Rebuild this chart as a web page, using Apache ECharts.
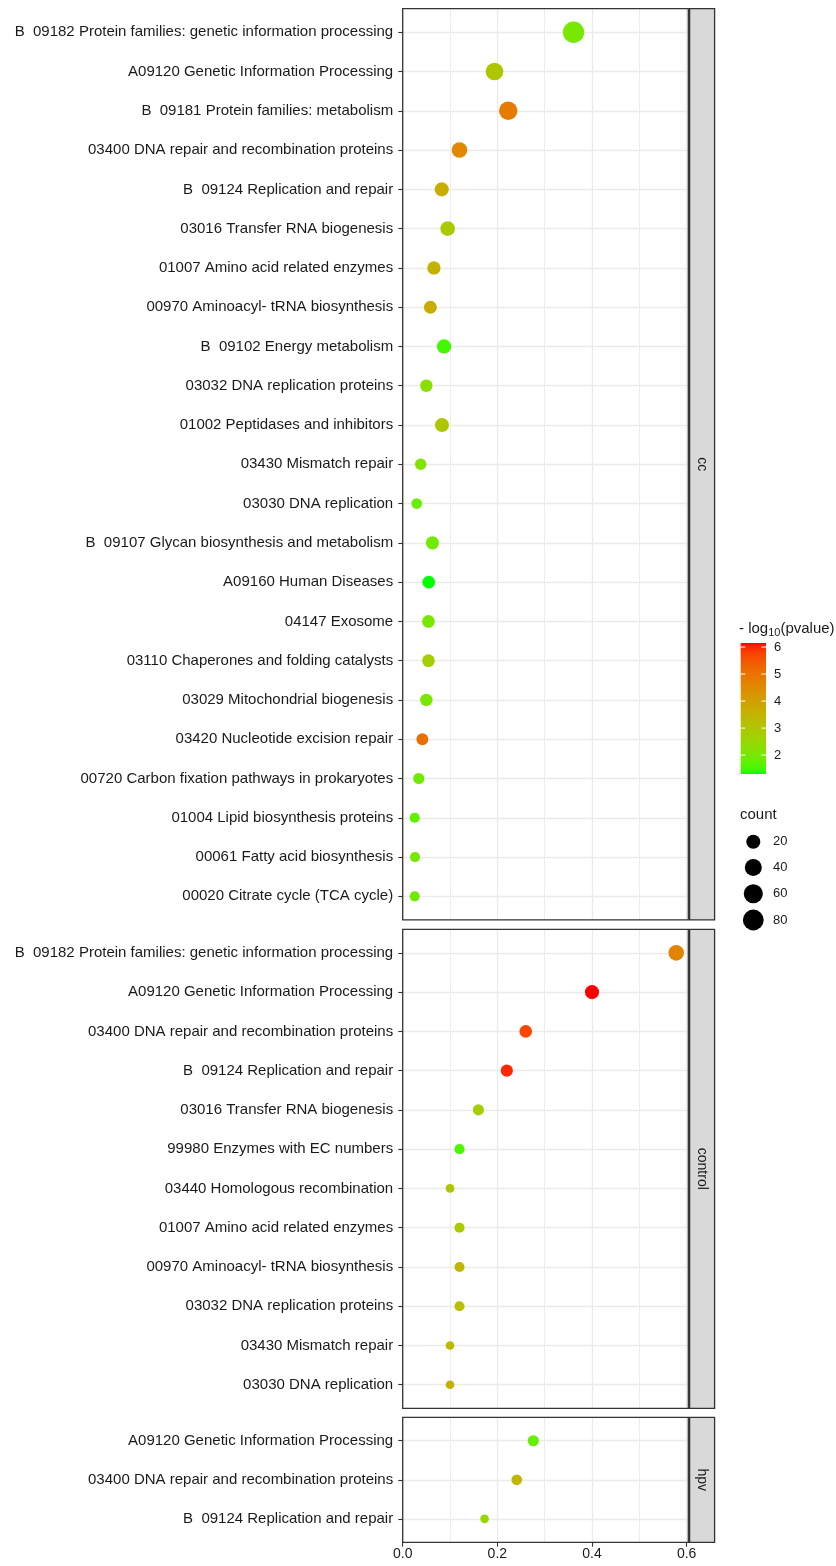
<!DOCTYPE html>
<html><head><meta charset="utf-8">
<script src="https://cdn.jsdelivr.net/npm/echarts@6/dist/echarts.min.js"></script>
<style>html,body{margin:0;padding:0;background:#fff}#c{width:836px;height:1566px}</style>
</head><body><div id="c"></div>
<script>
// ---------------- DATA ----------------
const ccCategories = [
  "B  09182 Protein families: genetic information processing",
  "A09120 Genetic Information Processing",
  "B  09181 Protein families: metabolism",
  "03400 DNA repair and recombination proteins",
  "B  09124 Replication and repair",
  "03016 Transfer RNA biogenesis",
  "01007 Amino acid related enzymes",
  "00970 Aminoacyl- tRNA biosynthesis",
  "B  09102 Energy metabolism",
  "03032 DNA replication proteins",
  "01002 Peptidases and inhibitors",
  "03430 Mismatch repair",
  "03030 DNA replication",
  "B  09107 Glycan biosynthesis and metabolism",
  "A09160 Human Diseases",
  "04147 Exosome",
  "03110 Chaperones and folding catalysts",
  "03029 Mitochondrial biogenesis",
  "03420 Nucleotide excision repair",
  "00720 Carbon fixation pathways in prokaryotes",
  "01004 Lipid biosynthesis proteins",
  "00061 Fatty acid biosynthesis",
  "00020 Citrate cycle (TCA cycle)"
];
const ccGeneRatio = [0.361, 0.194, 0.223, 0.120, 0.0825, 0.095, 0.066, 0.0585, 0.0874, 0.050, 0.083, 0.038, 0.0296, 0.0628, 0.055, 0.0544, 0.0544, 0.050, 0.0416, 0.034, 0.0254, 0.026, 0.0254];
const ccCount = [86, 46, 53, 29, 20, 23, 16, 14, 21, 12, 20, 9, 7, 15, 13, 13, 13, 12, 10, 8, 6, 6, 6];
const ccLogP = [2.0, 3.0, 4.85, 4.6, 3.7, 2.9, 3.55, 3.7, 1.5, 2.25, 3.0, 2.15, 1.8, 1.9, 1.3, 2.0, 2.75, 2.0, 5.1, 1.9, 1.7, 1.95, 1.9];

const controlCategories = [
  "B  09182 Protein families: genetic information processing",
  "A09120 Genetic Information Processing",
  "03400 DNA repair and recombination proteins",
  "B  09124 Replication and repair",
  "03016 Transfer RNA biogenesis",
  "99980 Enzymes with EC numbers",
  "03440 Homologous recombination",
  "01007 Amino acid related enzymes",
  "00970 Aminoacyl- tRNA biosynthesis",
  "03032 DNA replication proteins",
  "03430 Mismatch repair",
  "03030 DNA replication"
];
const controlGeneRatio = [0.578, 0.40, 0.26, 0.22, 0.16, 0.12, 0.10, 0.12, 0.12, 0.12, 0.10, 0.10];
const controlCount = [29, 20, 13, 11, 8, 6, 5, 6, 6, 6, 5, 5];
const controlLogP = [4.65, 6.15, 5.7, 6.0, 2.75, 1.55, 3.0, 2.85, 3.45, 3.2, 3.3, 3.55];

const hpvCategories = [
  "A09120 Genetic Information Processing",
  "03400 DNA repair and recombination proteins",
  "B  09124 Replication and repair"
];
const hpvGeneRatio = [0.276, 0.241, 0.173];
const hpvCount = [8, 7, 5];
const hpvLogP = [1.8, 3.45, 2.5];

const panelNames = ["cc", "control", "hpv"];
const xTickValues = [0, 0.2, 0.4, 0.6];
const colorBreaks = [2, 3, 4, 5, 6];
const countBreaks = [20, 40, 60, 80];

// ---------------- STYLE / LAYOUT ----------------
const FONT = "'Liberation Sans', Arial, Helvetica, sans-serif";
const plotLeft = 402.7, plotRight = 688.3;
const panelBoxes = [
  {top: 8.7, bottom: 919.9},
  {top: 929.3, bottom: 1408.3},
  {top: 1417.3, bottom: 1542.3}
];
const stripLeft = 689.6, stripRight = 714.6;
const xMax = 0.6035;

// Lab interpolation green -> red (like ggplot scale_colour_gradient)
function toLin(c){c/=255;return c<=0.04045?c/12.92:Math.pow((c+0.055)/1.055,2.4);}
function toS(v){v=Math.max(0,Math.min(1,v));const s=v<=0.0031308?12.92*v:1.055*Math.pow(v,1/2.4)-0.055;return Math.round(s*255);}
function rgbToLab(rgb){
  const R=toLin(rgb[0]),G=toLin(rgb[1]),B=toLin(rgb[2]);
  const X=(0.4124*R+0.3576*G+0.1805*B)/0.95047, Y=(0.2126*R+0.7152*G+0.0722*B), Z=(0.0193*R+0.1192*G+0.9505*B)/1.08883;
  const f=t=>t>0.008856?Math.cbrt(t):7.787*t+16/116;
  const fx=f(X),fy=f(Y),fz=f(Z);
  return [116*fy-16,500*(fx-fy),200*(fy-fz)];
}
function labToRgb(lab){
  const fy=(lab[0]+16)/116, fx=fy+lab[1]/500, fz=fy-lab[2]/200;
  const inv=t=>t*t*t>0.008856?t*t*t:(t-16/116)/7.787;
  const X=inv(fx)*0.95047,Y=inv(fy),Z=inv(fz)*1.08883;
  const R=3.2406*X-1.5372*Y-0.4986*Z, G=-0.9689*X+1.8758*Y+0.0415*Z, B=0.0557*X-0.2040*Y+1.0570*Z;
  return 'rgb('+toS(R)+','+toS(G)+','+toS(B)+')';
}
const labLow = rgbToLab([0,255,0]), labHigh = rgbToLab([255,0,0]);
const NSTOP = 40;
const colorStops = [];
for (let i=0;i<=NSTOP;i++){const t=i/NSTOP;colorStops.push(labToRgb([0,1,2].map(k=>labLow[k]+(labHigh[k]-labLow[k])*t)));}

const allLogP = ccLogP.concat(controlLogP, hpvLogP);
const allCount = ccCount.concat(controlCount, hpvCount);
const pMin = Math.min.apply(null, allLogP), pMax = Math.max.apply(null, allLogP);
const cMin = Math.min.apply(null, allCount), cMax = Math.max.apply(null, allCount);
function sizeOf(c){ return 8.7 + 12.6*Math.sqrt(Math.max(0,(c-cMin))/(cMax-cMin)); }

const panels = [
  {cats: ccCategories, ratio: ccGeneRatio, count: ccCount, logp: ccLogP},
  {cats: controlCategories, ratio: controlGeneRatio, count: controlCount, logp: controlLogP},
  {cats: hpvCategories, ratio: hpvGeneRatio, count: hpvCount, logp: hpvLogP}
];

const grids = [], xAxes = [], yAxes = [], series = [], graphics = [];
panels.forEach((p, gi) => {
  const box = panelBoxes[gi];
  const n = p.cats.length;
  const idx = p.cats.map((_, i) => i);
  const last = gi === panels.length - 1;
  grids.push({left: plotLeft, width: plotRight - plotLeft, top: box.top, height: box.bottom - box.top,
    show: false, containLabel: false, outerBoundsMode: 'none'});
  xAxes.push({
    type: 'value', gridIndex: gi, position: 'bottom', min: 0, max: xMax, interval: 0.2,
    axisLine: {show: false, onZero: false},
    axisTick: {show: last, length: 4.4, customValues: xTickValues, lineStyle: {color: '#333333', width: 1.1}},
    axisLabel: {show: last, customValues: xTickValues, margin: 5, fontSize: 14, color: '#1a1a1a', fontFamily: FONT,
      formatter: v => (Math.abs(v*5 - Math.round(v*5)) < 1e-6) ? v.toFixed(1) : ''},
    splitLine: {show: true, lineStyle: {color: '#EBEBEB', width: 1.3}},
    minorTick: {show: false, splitNumber: 2},
    minorSplitLine: {show: true, lineStyle: {color: '#EBEBEB', width: 0.9}}
  });
  yAxes.push({
    type: 'value', gridIndex: gi, position: 'left', inverse: true, min: -0.6, max: n - 0.4, minInterval: 1, maxInterval: 1,
    axisLine: {show: false, onZero: false},
    axisTick: {show: true, length: 4.4, customValues: idx, lineStyle: {color: '#333333', width: 1.1}},
    axisLabel: {show: true, customValues: idx, margin: 9.5, fontSize: 15, color: '#1a1a1a', fontFamily: FONT,
      formatter: v => (Math.abs(v - Math.round(v)) < 1e-6 && p.cats[Math.round(v)] !== undefined) ? p.cats[Math.round(v)] : ''},
    splitLine: {show: true, lineStyle: {color: '#EBEBEB', width: 1.3}}
  });
  series.push({
    type: 'scatter', xAxisIndex: gi, yAxisIndex: gi,
    data: p.ratio.map((x, i) => [x, i, p.count[i], p.logp[i]]),
    symbol: 'circle',
    symbolSize: v => sizeOf(v[2]),
    itemStyle: {opacity: 1, borderWidth: 0},
    emphasis: {disabled: true},
    z: 3
  });
  // panel border
  graphics.push({type: 'rect', shape: {x: plotLeft, y: box.top, width: plotRight - plotLeft, height: box.bottom - box.top},
    style: {fill: null, stroke: '#333333', lineWidth: 1.3}, z: 100, silent: true});
  // strip
  graphics.push({type: 'rect', shape: {x: stripLeft, y: box.top, width: stripRight - stripLeft, height: box.bottom - box.top},
    style: {fill: '#D9D9D9', stroke: '#333333', lineWidth: 1.3}, z: 100, silent: true});
  graphics.push({type: 'text', x: (stripLeft + stripRight) / 2, y: (box.top + box.bottom) / 2, rotation: -Math.PI / 2,
    style: {text: panelNames[gi], fontSize: 14, fontFamily: FONT, fill: '#1a1a1a', align: 'center', verticalAlign: 'middle'},
    z: 101, silent: true});
});

// ---------- legends ----------
const barX = 740.7, barW = 25.3, barTop = 643, barBottom = 774;
const vy = v => barBottom - (v - pMin) / (pMax - pMin) * (barBottom - barTop);
graphics.push({type: 'text', x: 739, y: barTop - 14, z: 101, silent: true,
  style: {text: '{a|- log}{s|10}{a|(pvalue)}', fontFamily: FONT, fill: '#1a1a1a', align: 'left', verticalAlign: 'middle',
    rich: {a: {fontSize: 15, lineHeight: 18, verticalAlign: 'middle', fontFamily: FONT, fill: '#1a1a1a'},
           s: {fontSize: 11, lineHeight: 18, verticalAlign: 'bottom', fontFamily: FONT, fill: '#1a1a1a'}}}});
graphics.push({type: 'rect', shape: {x: barX, y: barTop, width: barW, height: barBottom - barTop}, z: 100, silent: true,
  style: {fill: new echarts.graphic.LinearGradient(0, 1, 0, 0, colorStops.map((c, i) => ({offset: i / NSTOP, color: c})))}});
colorBreaks.forEach(v => {
  const y = vy(v);
  graphics.push({type: 'line', shape: {x1: barX, y1: y, x2: barX + 4.6, y2: y}, style: {stroke: '#ffffff', lineWidth: 1}, z: 101, silent: true});
  graphics.push({type: 'line', shape: {x1: barX + barW - 4.6, y1: y, x2: barX + barW, y2: y}, style: {stroke: '#ffffff', lineWidth: 1}, z: 101, silent: true});
  graphics.push({type: 'text', x: 774, y: y, z: 101, silent: true,
    style: {text: String(v), fontSize: 13, fontFamily: FONT, fill: '#1a1a1a', align: 'left', verticalAlign: 'middle'}});
});
graphics.push({type: 'text', x: 740, y: 815, z: 101, silent: true,
  style: {text: 'count', fontSize: 15, fontFamily: FONT, fill: '#1a1a1a', align: 'left', verticalAlign: 'middle'}});
const countYs = [841.7, 867.5, 893.8, 920];
countBreaks.forEach((c, i) => {
  graphics.push({type: 'circle', shape: {cx: 753.3, cy: countYs[i], r: sizeOf(c) / 2}, style: {fill: '#000000'}, z: 101, silent: true});
  graphics.push({type: 'text', x: 773, y: countYs[i], z: 101, silent: true,
    style: {text: String(c), fontSize: 13, fontFamily: FONT, fill: '#1a1a1a', align: 'left', verticalAlign: 'middle'}});
});

const chart = echarts.init(document.getElementById('c'), null, {renderer: 'canvas', width: 836, height: 1566});
chart.setOption({
  backgroundColor: '#ffffff',
  animation: false,
  grid: grids, xAxis: xAxes, yAxis: yAxes, series: series,
  visualMap: {type: 'continuous', show: false, dimension: 3, min: pMin, max: pMax,
    seriesIndex: series.map((_, i) => i), inRange: {color: colorStops}},
  graphic: graphics
});
</script>
</body></html>
